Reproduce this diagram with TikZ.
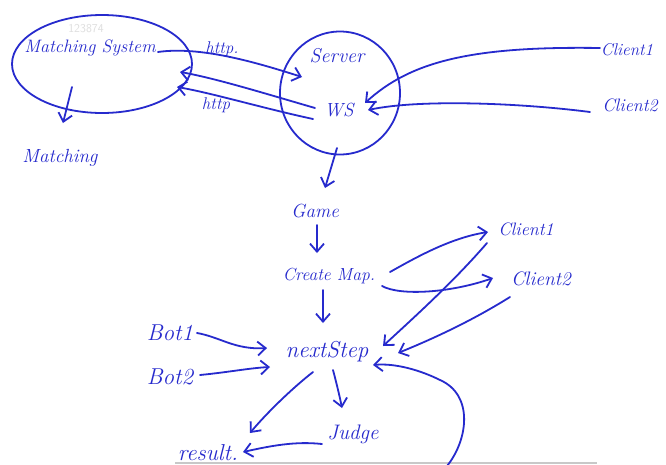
\documentclass[tikz,border=0pt]{standalone}
\usetikzlibrary{arrows.meta,shapes.geometric}
\definecolor{ink}{RGB}{38,42,205}
\definecolor{wmark}{RGB}{222,222,222}
\definecolor{barg}{RGB}{200,200,200}
\begin{document}
\begin{tikzpicture}[x=1pt,y=-1pt,
  lbl/.style={text=ink,inner sep=0pt,font=\fontsize{#1}{#1}\selectfont\itshape},
  lbl/.default=17,
  blob/.style={draw=ink,line width=1.8pt,ellipse,inner sep=0pt},
  arr/.style={draw=ink,line width=1.8pt,line cap=round,line join=round,
    -{Straight Barb[length=8pt,width=14pt,line width=1.8pt]}}]
\useasboundingbox[fill=white] (0,0) rectangle (666,464);
% bottom bar of the screenshot
\fill[barg] (175,461.5) rectangle (597,464);

% top part
\node[blob,minimum width=180pt,minimum height=98pt] (ms) at (102,64) {};
\node[text=wmark,font=\sffamily\fontsize{12}{12}\selectfont] (wm) at (86,29) {123874};
\node[lbl=18] (mst) at (90,48) {Matching System};
\node[lbl=19] (match) at (60,158) {Matching};
\node[blob,minimum width=120pt,minimum height=123pt] (srv) at (340,93) {};
\node[lbl=20] (server) at (337,56) {Server};
\node[lbl=19] (ws) at (339,110) {WS};
\node[lbl=17] (http1) at (222,49) {http.};
\node[lbl=17] (http2) at (216,105) {http};
\node[lbl=17] (c1) at (627,50) {Client1};
\node[lbl=18] (c2) at (630,105) {Client2};

% lower part
\node[lbl=19] (game) at (315,211) {Game};
\node[lbl=17.5] (cmap) at (329,276) {Create Map.};
\node[lbl=23] (next) at (327,352) {nextStep};
\node[lbl=23] (bot1) at (170,333) {Bot1};
\node[lbl=23] (bot2) at (170,377) {Bot2};
\node[lbl=18] (cl1) at (526,229) {Client1};
\node[lbl=19.5] (cl2) at (541,279) {Client2};
\node[lbl=21] (judge) at (353,434) {Judge};
\node[lbl=23] (res) at (208,453) {result.};
\coordinate (loop) at (447,466);

% connectors, top
\draw[arr] ([shift={(-30,23)}]ms.center) -- ([shift={(3,-35)}]match.center);
\draw[arr] ([shift={(2,4)}]mst.east) .. controls (200,46) and (255,62) .. ([shift={(-38,-16)}]srv.center);
\draw[arr] ([shift={(-24,-2)}]ws.center) .. controls (270,95) and (215,78) .. ([shift={(78,8)}]ms.center);
\draw[arr] ([shift={(-26,9)}]ws.center) .. controls (262,108) and (212,93) .. ([shift={(75,23)}]ms.center);
\draw[arr] ([shift={(-27,-2)}]c1.center) .. controls (470,46) and (410,62) .. ([shift={(26,-7)}]ws.center);
\draw[arr] ([shift={(-40,7)}]c2.center) .. controls (520,103) and (420,99) .. ([shift={(29,0)}]ws.center);
\draw[arr] ([shift={(-3,55)}]srv.center) -- ([shift={(10,-23)}]game.center);

% connectors, bottom
\draw[arr] ([shift={(2,14)}]game.center) -- ([shift={(-12,-23)}]cmap.center);
\draw[arr] ([shift={(-6,14)}]cmap.center) -- ([shift={(-4,-29)}]next.center);
\draw[arr] ([shift={(61,-4)}]cmap.center) .. controls (415,258) and (450,238) .. ([shift={(-38,3)}]cl1.center);
\draw[arr] ([shift={(53,10)}]cmap.center) .. controls (400,296) and (450,293) .. ([shift={(-48,-1)}]cl2.center);
\draw[arr] ([shift={(-39,14)}]cl1.center) .. controls (455,280) and (420,312) .. ([shift={(56,-6)}]next.center);
\draw[arr] ([shift={(-31,18)}]cl2.center) .. controls (470,322) and (430,340) .. ([shift={(71,1)}]next.center);
\draw[arr] ([shift={(27,0)}]bot1.center) .. controls (220,337) and (235,350) .. ([shift={(-60,-4)}]next.center);
\draw[arr] ([shift={(30,-2)}]bot2.center) .. controls (230,372) and (250,368) .. ([shift={(-57,15)}]next.center);
\draw[arr] ([shift={(6,18)}]next.center) .. controls (337,385) and (340,398) .. ([shift={(-11,-26)}]judge.center);
\draw[arr] ([shift={(-14,20)}]next.center) .. controls (290,390) and (265,415) .. ([shift={(42,-20)}]res.center);
\draw[arr] ([shift={(-31,10)}]judge.center) .. controls (295,441) and (270,446) .. ([shift={(35,-1)}]res.center);
\draw[arr] (loop) .. controls (468,440) and (474,395) .. (440,380) .. controls (420,370) and (395,363) .. ([shift={(46,13)}]next.center);
\end{tikzpicture}
\end{document}
